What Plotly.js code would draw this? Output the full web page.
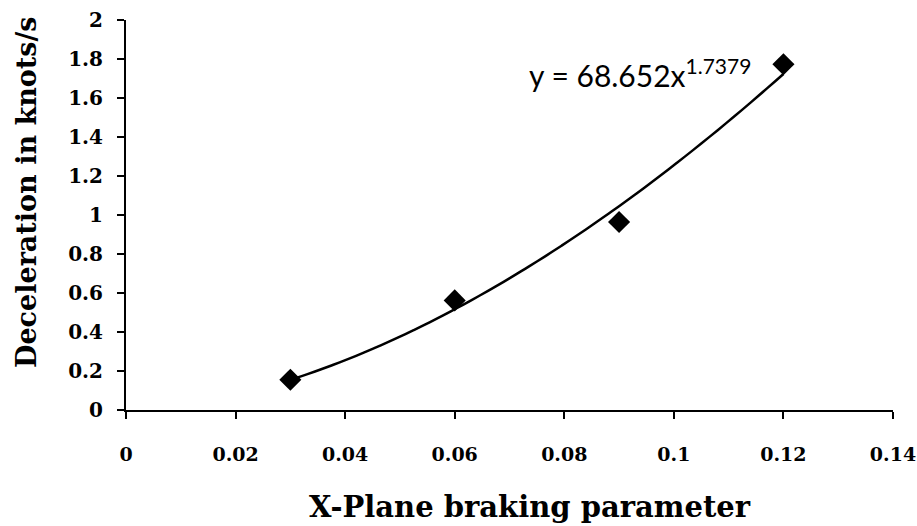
<!DOCTYPE html>
<html><head><meta charset="utf-8">
<script src="https://cdn.plot.ly/plotly-3.0.1.min.js"></script>
<style>html,body{margin:0;padding:0;background:#fff}#chart{width:917px;height:526px}</style>
</head><body><div id="chart"></div>
<script>
// Data
const brakingParam = [0.03, 0.06, 0.09, 0.12];
const deceleration = [0.155, 0.562, 0.964, 1.773];
// Power trendline shown on the chart: y = a * x^b
const trendCoefA = 68.652;
const trendCoefB = 1.7379;
const trendLabel = 'y = 68.652x<sup>1.7379</sup>';
const xTitle = 'X-Plane braking parameter';
const yTitle = 'Deceleration in knots/s';
const xTickVals = [0, 0.02, 0.04, 0.06, 0.08, 0.1, 0.12, 0.14];
const xTickText = ['0', '0.02', '0.04', '0.06', '0.08', '0.1', '0.12', '0.14'];
const yTickVals = [0, 0.2, 0.4, 0.6, 0.8, 1, 1.2, 1.4, 1.6, 1.8, 2];
const yTickText = ['0', '0.2', '0.4', '0.6', '0.8', '1', '1.2', '1.4', '1.6', '1.8', '2'];

const xMin = brakingParam[0], xMax = brakingParam[brakingParam.length - 1];
const trendX = [], trendY = [];
for (let i = 0; i <= 60; i++) {
  const x = xMin + (xMax - xMin) * i / 60;
  trendX.push(x);
  trendY.push(trendCoefA * Math.pow(x, trendCoefB));
}

const serif = 'DejaVu Serif, Liberation Serif, serif';
const traces = [
  {x: trendX, y: trendY, mode: 'lines', line: {color: '#000', width: 2.5, shape: 'spline'}, hoverinfo: 'skip'},
  {x: brakingParam, y: deceleration, mode: 'markers', marker: {symbol: 'diamond', size: 17, color: '#000'}}
];
const layout = {
  width: 917, height: 526,
  margin: {l: 126, r: 24, t: 20, b: 116},
  paper_bgcolor: '#fff', plot_bgcolor: '#fff',
  showlegend: false,
  xaxis: {
    range: [0, 0.14], tickvals: xTickVals, ticktext: xTickText,
    showgrid: false, zeroline: false, showline: true, linecolor: '#000', linewidth: 2,
    ticks: 'outside', ticklen: 7, tickwidth: 2, tickcolor: '#000',
    ticklabelstandoff: 19,
    tickfont: {family: serif, size: 19, color: '#000', weight: 'bold'}
  },
  yaxis: {
    range: [0, 2], tickvals: yTickVals, ticktext: yTickText,
    showgrid: false, zeroline: false, showline: true, linecolor: '#000', linewidth: 2,
    ticks: 'outside', ticklen: 7, tickwidth: 2, tickcolor: '#000',
    ticklabelstandoff: 10,
    tickfont: {family: serif, size: 20, color: '#000', weight: 'bold'}
  },
  annotations: [{
    x: 0.0938, y: 1.73, xref: 'x', yref: 'y', text: trendLabel, showarrow: false,
    xanchor: 'center', yanchor: 'middle',
    font: {family: 'Lato, Open Sans, sans-serif', size: 30, color: '#000'}
  }, {
    x: (530 - 126) / 767, y: -(507 - 410) / 390, xref: 'paper', yref: 'paper', text: xTitle, showarrow: false,
    xanchor: 'center', yanchor: 'middle',
    font: {family: serif, size: 29, color: '#000', weight: 'bold'}
  }, {
    x: (26 - 126) / 767, y: (410 - 192) / 390, xref: 'paper', yref: 'paper', text: yTitle, showarrow: false,
    textangle: -90, xanchor: 'center', yanchor: 'middle',
    font: {family: serif, size: 27, color: '#000', weight: 'bold'}
  }]
};
Plotly.newPlot('chart', traces, layout, {displayModeBar: false, staticPlot: true});
</script></body></html>
